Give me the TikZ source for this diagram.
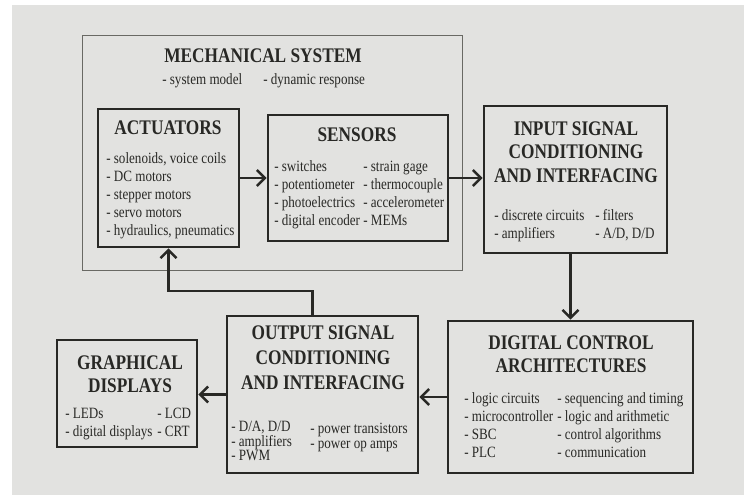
\documentclass[tikz,border=0pt]{standalone}
\usepackage{fontspec}
\setmainfont{Liberation Serif}
\usepackage{xcolor}
\usepackage{graphicx}
\usetikzlibrary{arrows.meta,positioning}
\definecolor{paper}{RGB}{226,226,224}
\definecolor{ink}{RGB}{40,40,37}
\definecolor{thin}{RGB}{105,105,100}
\newcommand{\tl}[1]{\scalebox{1}[1.2]{#1}}
\tikzset{blk/.style={rectangle,draw=ink,line width=1.8pt,inner sep=0pt},
    frame/.style={rectangle,draw=thin,line width=0.6pt,inner sep=0pt},
    head/.style={anchor=base,inner sep=0pt,text=ink,font=\fontsize{12.3}{14.2}\selectfont\bfseries},
    items/.style={anchor=base west,inner sep=0pt,text=ink,font=\fontsize{9.3}{10.7}\selectfont},
    arr/.style={->,draw=ink,line width=1.8pt}}

\begin{document}
\begin{tikzpicture}[x=0.025cm,y=-0.025cm,>={Straight Barb[length=2mm,width=4mm]}]
    \useasboundingbox (0,0) rectangle (744,495);
    \fill[paper] (12,5) rectangle (744,495);

    % boxes
    \node[frame,minimum width=9.5cm,minimum height=5.875cm] (mech)at (272,152.5) {};
    \node[blk,minimum width=3.525cm,minimum height=3.45cm] (act)at (168.5,178) {};
    \node[blk,minimum width=4.5cm,minimum height=3.15cm] (sens)at (358,178) {};
    \node[blk,minimum width=4.575cm,minimum height=3.675cm] (inp)at (575.5,179.5) {};
    \node[blk,minimum width=6.125cm,minimum height=3.8cm] (dig)at (570.5,397) {};
    \node[blk,minimum width=4.775cm,minimum height=3.925cm] (out)at (322.5,394.5) {};
    \node[blk,minimum width=3.5cm,minimum height=2.675cm] (gra)at (127,393.5) {};

    % titles
    \node[head] (mechh)at (263,62) {\tl{MECHANICAL SYSTEM}};
    \node[head] (acth)at (168,134) {\tl{ACTUATORS}};
    \node[head] (sensh)at (357,141) {\tl{SENSORS}};
    \node[head] (inph)at (576,135) {\tl{\begin{tabular}[t]{@{}c@{}}INPUT SIGNAL\\CONDITIONING\\AND INTERFACING\end{tabular}}};
    \node[head] (digh)at (571,349) {\tl{\begin{tabular}[t]{@{}c@{}}DIGITAL CONTROL\\ARCHITECTURES\end{tabular}}};
    \node[head,font=\fontsize{12.3}{15}\selectfont\bfseries] (outh)at (323,339) {\tl{\begin{tabular}[t]{@{}c@{}}OUTPUT SIGNAL\\CONDITIONING\\AND INTERFACING\end{tabular}}};
    \node[head] (grah)at (130,369) {\tl{\begin{tabular}[t]{@{}c@{}}GRAPHICAL\\DISPLAYS\end{tabular}}};

    % lists
    \node[items] (mecha)at (162,84) {\tl{- system model}};
    \node[items] (mechb)at (263,84) {\tl{- dynamic response}};
    \node[items] (acta)at (106,163) {\tl{\begin{tabular}[t]{@{}l@{}}- solenoids, voice coils\\- DC motors\\- stepper motors\\- servo motors\\- hydraulics, pneumatics\end{tabular}}};
    \node[items] (sensa)at (274,171) {\tl{\begin{tabular}[t]{@{}l@{}}- switches\\- potentiometer\\- photoelectrics\\- digital encoder\end{tabular}}};
    \node[items] (sensb)at (363,171) {\tl{\begin{tabular}[t]{@{}l@{}}- strain gage\\- thermocouple\\- accelerometer\\- MEMs\end{tabular}}};
    \node[items] (inpa)at (494,220) {\tl{\begin{tabular}[t]{@{}l@{}}- discrete circuits\\- amplifiers\end{tabular}}};
    \node[items] (inpb)at (595,220) {\tl{\begin{tabular}[t]{@{}l@{}}- filters\\- A/D, D/D\end{tabular}}};
    \node[items] (diga)at (464,403) {\tl{\begin{tabular}[t]{@{}l@{}}- logic circuits\\- microcontroller\\- SBC\\- PLC\end{tabular}}};
    \node[items] (digb)at (557,403) {\tl{\begin{tabular}[t]{@{}l@{}}- sequencing and timing\\- logic and arithmetic\\- control algorithms\\- communication\end{tabular}}};
    \node[items,font=\fontsize{9.3}{8.4}\selectfont] (outa)at (231,431) {\tl{\begin{tabular}[t]{@{}l@{}}- D/A, D/D\\- amplifiers\\- PWM\end{tabular}}};
    \node[items,font=\fontsize{9.3}{8.9}\selectfont] (outb)at (310,433) {\tl{\begin{tabular}[t]{@{}l@{}}- power transistors\\- power op amps\end{tabular}}};
    \node[items] (graa)at (65,418) {\tl{\begin{tabular}[t]{@{}l@{}}- LEDs\\- digital displays\end{tabular}}};
    \node[items] (grab)at (157,418) {\tl{\begin{tabular}[t]{@{}l@{}}- LCD\\- CRT\end{tabular}}};

    % connectors
    \coordinate (fb)at (0,291);
    \draw [arr] (act.east) to (sens.west);
    \draw [arr] (sens.east) to (sens.east -| inp.west);
    \draw [arr] (inp.south -| dig.north) to (dig.north);
    \draw [arr] (dig.west) to (dig.west -| out.east);
    \draw [arr] (out.west) to (out.west -| gra.east);
    \draw [arr] ([xshift=-0.25cm]out.north) |- (act.south |- fb) -- (act.south);
\end{tikzpicture}
\end{document}
